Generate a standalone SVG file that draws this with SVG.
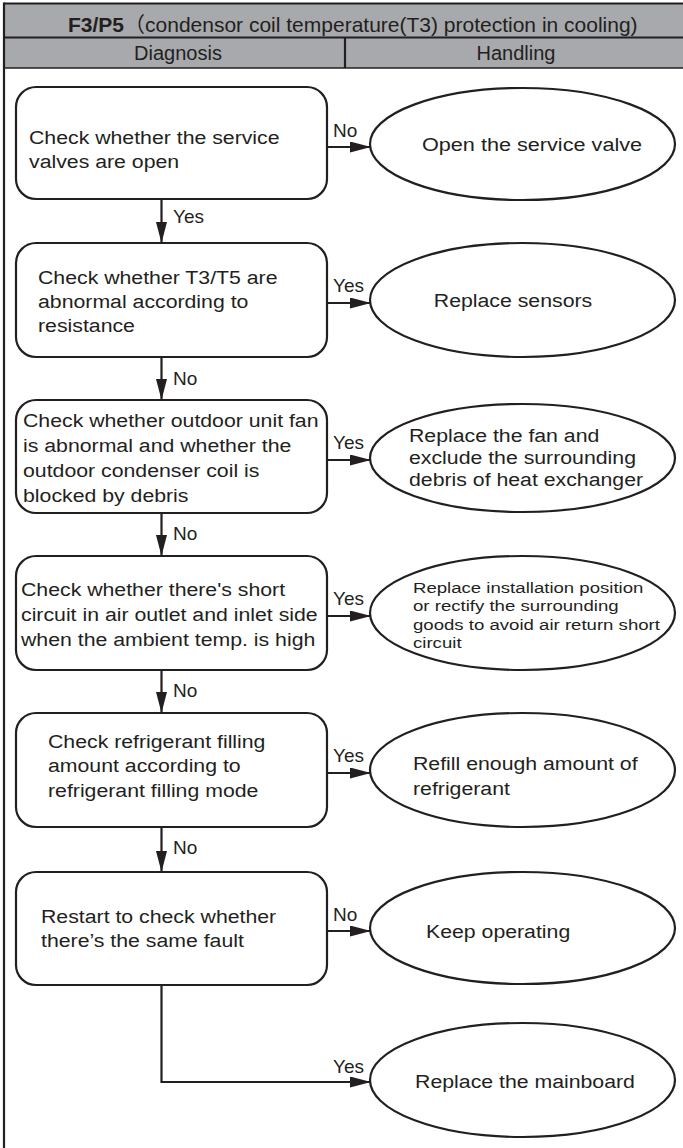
<svg xmlns="http://www.w3.org/2000/svg" width="683" height="1148" viewBox="0 0 683 1148">
<style>
.hdr{fill:#a7a9ac}
.ln{stroke:#231f20;stroke-width:2.2;fill:none}
.box{fill:#fff;stroke:#231f20;stroke-width:2.2}
.ell{fill:#fff;stroke:#231f20;stroke-width:2.2}
.t{font-family:"Liberation Sans",Arial,sans-serif;font-size:19px;fill:#231f20}
.s{font-family:"Liberation Sans",Arial,sans-serif;font-size:15.5px;fill:#231f20}
.h{font-family:"Liberation Sans","Noto Sans CJK SC",sans-serif;font-size:21px;fill:#231f20}
.lab{font-family:"Liberation Sans",Arial,sans-serif;font-size:19px;fill:#231f20}
.c{stroke:#231f20;stroke-width:2.2;fill:none}
</style>
<defs>
<marker id="ah" markerUnits="userSpaceOnUse" markerWidth="22" markerHeight="12" refX="21" refY="5.5" orient="auto">
<path d="M0,0 L21,5.5 L0,11 Z" fill="#231f20"/>
</marker>
</defs>
<rect width="683" height="1148" fill="#fff"/>
<g id="header">
<rect class="hdr" x="4" y="4" width="700" height="64"/>
<line class="ln" x1="4" y1="3.5" x2="700" y2="3.5"/>
<line class="ln" x1="4" y1="37.5" x2="700" y2="37.5"/>
<line class="ln" x1="4" y1="68" x2="700" y2="68" style="stroke-width:1.6"/>
<line class="ln" x1="345" y1="37.5" x2="345" y2="68"/>
<line class="ln" x1="4" y1="2.5" x2="4" y2="1148"/>
<text class="h" x="68" y="31.5"><tspan font-weight="bold">F3/P5</tspan>（condensor coil temperature(T3) protection in cooling)</text>
<text class="h" x="178" y="60" text-anchor="middle" style="font-size:20px">Diagnosis</text>
<text class="h" x="516" y="60" text-anchor="middle" style="font-size:20px">Handling</text>
</g>
<g id="connectors">
<line class="c" x1="327" y1="147" x2="371" y2="147" marker-end="url(#ah)"/>
<line class="c" x1="161.5" y1="199" x2="161.5" y2="243" marker-end="url(#ah)"/>
<line class="c" x1="327" y1="303" x2="371" y2="303" marker-end="url(#ah)"/>
<line class="c" x1="161.5" y1="357" x2="161.5" y2="400" marker-end="url(#ah)"/>
<line class="c" x1="327" y1="460" x2="371" y2="460" marker-end="url(#ah)"/>
<line class="c" x1="161.5" y1="513" x2="161.5" y2="556" marker-end="url(#ah)"/>
<line class="c" x1="327" y1="616" x2="371" y2="616" marker-end="url(#ah)"/>
<line class="c" x1="161.5" y1="670" x2="161.5" y2="713" marker-end="url(#ah)"/>
<line class="c" x1="327" y1="773" x2="371" y2="773" marker-end="url(#ah)"/>
<line class="c" x1="161.5" y1="827" x2="161.5" y2="872" marker-end="url(#ah)"/>
<line class="c" x1="327" y1="931" x2="371" y2="931" marker-end="url(#ah)"/>
<polyline class="c" points="161.5,985 161.5,1082 371,1082" marker-end="url(#ah)"/>
<text class="lab" x="333" y="137">No</text>
<text class="lab" x="173" y="223">Yes</text>
<text class="lab" x="333" y="292">Yes</text>
<text class="lab" x="173" y="385">No</text>
<text class="lab" x="333" y="449">Yes</text>
<text class="lab" x="173" y="540">No</text>
<text class="lab" x="333" y="605">Yes</text>
<text class="lab" x="173" y="697">No</text>
<text class="lab" x="333" y="762">Yes</text>
<text class="lab" x="173" y="854">No</text>
<text class="lab" x="333" y="921">No</text>
<text class="lab" x="333" y="1073">Yes</text>
</g>
<g id="n1">
<rect class="box" x="16" y="87" width="311" height="112" rx="20"/>
<text class="t" transform="translate(29,0) scale(1.12,1)"><tspan x="0" y="144">Check whether the service</tspan><tspan x="0" y="168">valves are open</tspan></text>
</g>
<g id="h1">
<ellipse class="ell" cx="522.5" cy="144" rx="152.5" ry="56"/>
<text class="t" transform="translate(532,0) scale(1.14,1)" text-anchor="middle"><tspan x="0" y="151">Open the service valve</tspan></text>
</g>
<g id="n2">
<rect class="box" x="16" y="243" width="311" height="114" rx="20"/>
<text class="t" transform="translate(38,0) scale(1.12,1)"><tspan x="0" y="284">Check whether T3/T5 are</tspan><tspan x="0" y="308">abnormal according to</tspan><tspan x="0" y="332">resistance</tspan></text>
</g>
<g id="h2">
<ellipse class="ell" cx="522.5" cy="300" rx="152.5" ry="57"/>
<text class="t" transform="translate(513,0) scale(1.12,1)" text-anchor="middle"><tspan x="0" y="307">Replace sensors</tspan></text>
</g>
<g id="n3">
<rect class="box" x="16" y="400" width="311" height="113" rx="20"/>
<text class="t" transform="translate(23,0) scale(1.12,1)"><tspan x="0" y="427">Check whether outdoor unit fan</tspan><tspan x="0" y="452">is abnormal and whether the</tspan><tspan x="0" y="477">outdoor condenser coil is</tspan><tspan x="0" y="502">blocked by debris</tspan></text>
</g>
<g id="h3">
<ellipse class="ell" cx="522.5" cy="458" rx="152.5" ry="54"/>
<text class="t" transform="translate(409,0) scale(1.12,1)"><tspan x="0" y="442">Replace the fan and</tspan><tspan x="0" y="464">exclude the surrounding</tspan><tspan x="0" y="486">debris of heat exchanger</tspan></text>
</g>
<g id="n4">
<rect class="box" x="16" y="556" width="311" height="114" rx="20"/>
<text class="t" transform="translate(21,0) scale(1.12,1)"><tspan x="0" y="596">Check whether there's short</tspan><tspan x="0" y="621">circuit in air outlet and inlet side</tspan><tspan x="0" y="646">when the ambient temp. is high</tspan></text>
</g>
<g id="h4">
<ellipse class="ell" cx="522.5" cy="613" rx="152.5" ry="57"/>
<text class="s" transform="translate(413,0) scale(1.2,1)"><tspan x="0" y="593">Replace installation position</tspan><tspan x="0" y="611">or rectify the surrounding</tspan><tspan x="0" y="630">goods to avoid air return short</tspan><tspan x="0" y="648">circuit</tspan></text>
</g>
<g id="n5">
<rect class="box" x="16" y="713" width="311" height="114" rx="20"/>
<text class="t" transform="translate(48,0) scale(1.12,1)"><tspan x="0" y="748">Check refrigerant filling</tspan><tspan x="0" y="772">amount according to</tspan><tspan x="0" y="797">refrigerant filling mode</tspan></text>
</g>
<g id="h5">
<ellipse class="ell" cx="522.5" cy="770" rx="152.5" ry="57"/>
<text class="t" transform="translate(413,0) scale(1.12,1)"><tspan x="0" y="770">Refill enough amount of</tspan><tspan x="0" y="795">refrigerant</tspan></text>
</g>
<g id="n6">
<rect class="box" x="16" y="872" width="311" height="113" rx="20"/>
<text class="t" transform="translate(41,0) scale(1.12,1)"><tspan x="0" y="923">Restart to check whether</tspan><tspan x="0" y="947">there’s the same fault</tspan></text>
</g>
<g id="h6">
<ellipse class="ell" cx="522.5" cy="928" rx="152.5" ry="56"/>
<text class="t" transform="translate(426,0) scale(1.12,1)"><tspan x="0" y="938">Keep operating</tspan></text>
</g>
<g id="h7">
<ellipse class="ell" cx="522.5" cy="1080" rx="152.5" ry="57"/>
<text class="t" transform="translate(525,0) scale(1.12,1)" text-anchor="middle"><tspan x="0" y="1088">Replace the mainboard</tspan></text>
</g>
</svg>
